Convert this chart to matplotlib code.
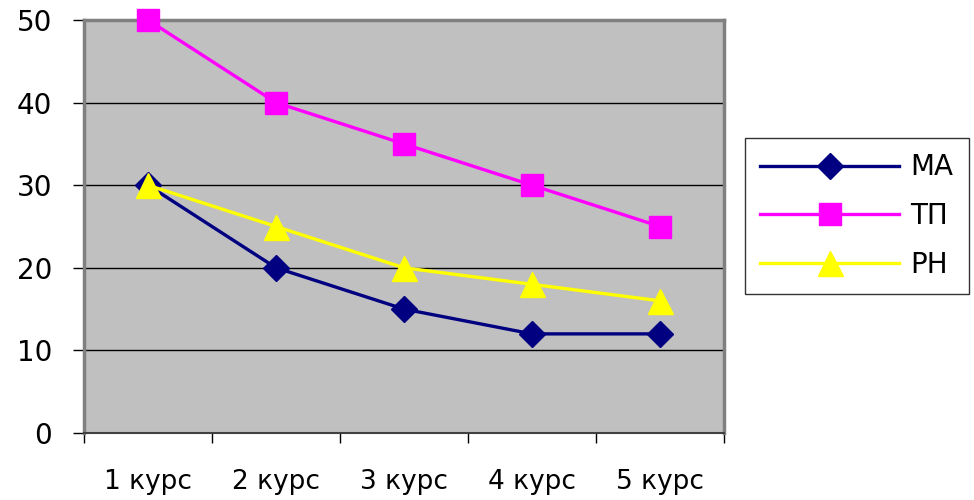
import matplotlib
matplotlib.use("Agg")
from matplotlib import pyplot as plt

plt.rcParams["font.family"] = ["DejaVu Sans"]

courses = ["1 курс", "2 курс", "3 курс", "4 курс", "5 курс"]
ma_values = [30, 20, 15, 12, 12]
tp_values = [50, 40, 35, 30, 25]
rn_values = [30, 25, 20, 18, 16]

series = [
    ("МА", ma_values, "#000080", "D", 13),
    ("ТП", tp_values, "#FF00FF", "s", 16),
    ("РН", rn_values, "#FFFF00", "^", 18),
]

fig = plt.figure(figsize=(9.74, 5.0), dpi=100)
ax = fig.add_axes([84 / 974, 1 - 433 / 500, 640 / 974, 413 / 500])
ax.set_facecolor("#C0C0C0")

x = list(range(len(courses)))
for name, values, color, marker, size in series:
    ax.plot(
        x,
        values,
        color=color,
        linewidth=2.4,
        marker=marker,
        markersize=size,
        markerfacecolor=color,
        markeredgecolor=color,
        label=name,
        clip_on=False,
        zorder=3,
    )

ax.set_xlim(-0.5, len(courses) - 0.5)
ax.set_ylim(0, 50)
ax.set_yticks([0, 10, 20, 30, 40, 50])
ax.yaxis.grid(True, color="black", linewidth=1.0)
ax.set_axisbelow(True)

ax.set_xticks(x)
ax.set_xticklabels(courses, fontsize=19)
ax.set_xticks([i - 0.5 for i in range(len(courses) + 1)], minor=True)
ax.tick_params(axis="x", which="major", length=0, pad=26)
ax.tick_params(axis="x", which="minor", length=7, width=1, color="black",
               direction="out")
ax.tick_params(axis="y", length=8, width=1, color="black", pad=15,
               labelsize=20, direction="out")

for side in ["left", "top", "right"]:
    ax.spines[side].set_color("#808080")
    ax.spines[side].set_linewidth(2.5)
ax.spines["bottom"].set_color("#404040")
ax.spines["bottom"].set_linewidth(1.5)

leg = fig.legend(
    loc="upper left",
    bbox_to_anchor=(745 / 974, 1 - 138 / 500),
    fontsize=20,
    handlelength=5.0,
    handletextpad=0.4,
    labelspacing=0.75,
    borderpad=0.55,
    borderaxespad=0,
    fancybox=False,
    frameon=True,
    edgecolor="black",
)
leg.get_frame().set_linewidth(1.0)

fig.savefig("out.png", dpi=100, facecolor="white")
